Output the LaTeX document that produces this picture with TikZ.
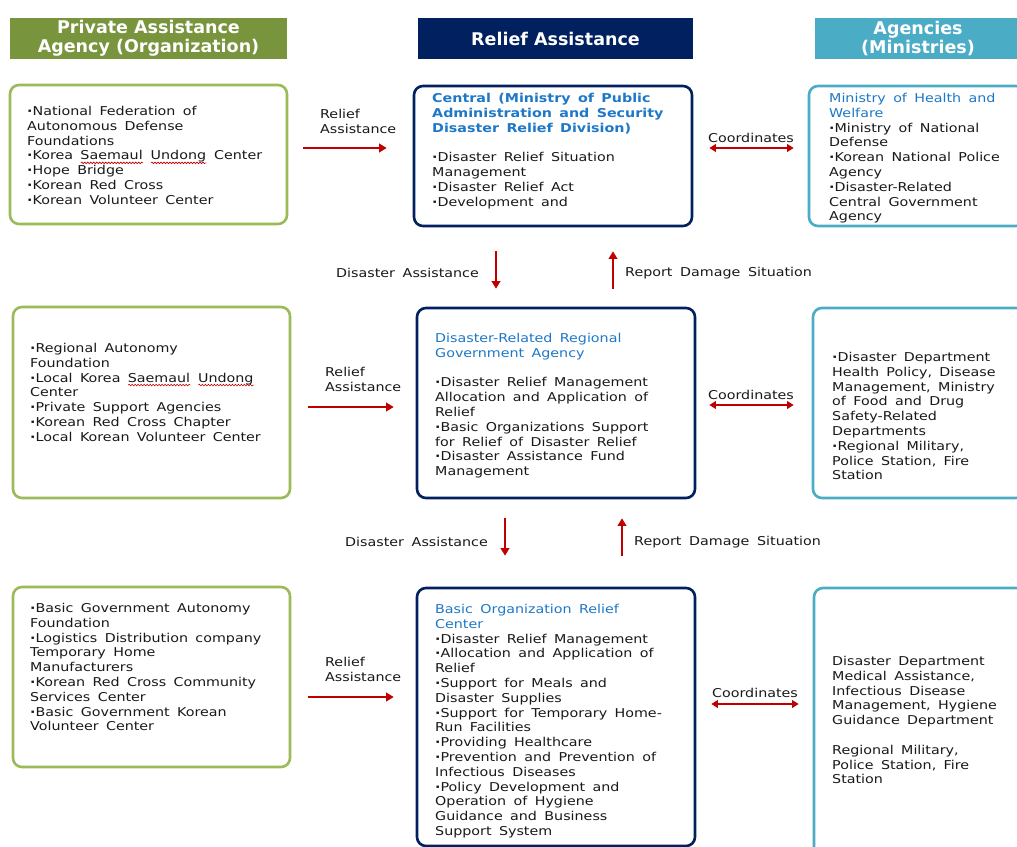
\documentclass[tikz,border=0pt]{standalone}
\usepackage{fontspec}
\usetikzlibrary{arrows.meta,decorations.pathmorphing}
\newfontfamily\bodyfont[FakeStretch=1.17,WordSpace=1.7]{DejaVu Sans}
\newfontfamily\hdrfontfam{DejaVu Sans}
\definecolor{hgreen}{RGB}{120,148,60}
\definecolor{bgreen}{RGB}{155,187,89}
\definecolor{navy}{RGB}{0,32,96}
\definecolor{teal}{RGB}{75,172,198}
\definecolor{tblue}{RGB}{30,120,200}
\definecolor{arrred}{RGB}{192,0,0}
\definecolor{txt}{RGB}{25,25,25}
\newcommand\squig[1]{\leavevmode\setbox0=\hbox{#1}\rlap{\copy0}\tikz[baseline=0pt,x=1pt,y=1pt]\draw[arrred,line width=0.6pt,decorate,decoration={snake,amplitude=0.8pt,segment length=3pt}] (0,-3) -- (\the\wd0,-3);}
\newcommand\bl[1]{\textcolor{tblue}{#1}}
\newcommand\bu{{\bfseries·}}
\newskip\bodyspace
\bodyspace=7.4pt plus 1pt
\newcommand\bs{\spaceskip\bodyspace\relax}
\begin{document}
\begin{tikzpicture}[x=1pt,y=-1pt,
  hdr/.style={inner sep=0pt,minimum height=41pt,text=white,align=center,
    font=\hdrfontfam\bfseries\fontsize{17.5}{19}\selectfont},
  gbox/.style={draw=bgreen,line width=2.6pt,rounded corners=9pt,inner sep=0pt},
  nbox/.style={draw=navy,line width=2.6pt,rounded corners=9pt,inner sep=0pt},
  tbox/.style={draw=teal,line width=2.6pt,rounded corners=9pt,inner sep=0pt},
  body/.style={anchor=north west,inner sep=0pt,text width=270pt,align=left,text=txt,
    font=\bodyfont\fontsize{12.2}{14.8}\selectfont},
  lbl/.style={inner sep=0pt,text=txt,font=\bodyfont\fontsize{12.2}{14.8}\selectfont},
  rarr/.style={draw=arrred,line width=2.4pt,-{Triangle[width=8.5pt,length=7.5pt]}},
  darr/.style={draw=arrred,line width=2.2pt,{Triangle[width=7.5pt,length=6.5pt]}-{Triangle[width=7.5pt,length=6.5pt]}}
]
\useasboundingbox (0,0) rectangle (1017,846);
\fill[white] (0,0) rectangle (1017,846);

% headers
\node[hdr,fill=hgreen,minimum width=277pt] (h1) at (148.5,38.5) {Private Assistance\\Agency (Organization)};
\node[hdr,fill=navy,minimum width=275pt] (h2) at (555.5,38.5) {Relief Assistance};
\node[hdr,fill=teal,minimum width=206pt] (h3) at (918,38.5) {Agencies\\(Ministries)};

% boxes
\node[gbox,minimum width=277pt,minimum height=139pt] (L1) at (148.5,154.5) {};
\node[nbox,minimum width=278pt,minimum height=140pt] (C1) at (553,156) {};
\node[tbox,minimum width=216pt,minimum height=140pt] (R1) at (917,156) {};
\node[gbox,minimum width=277pt,minimum height=191pt] (L2) at (151.5,402.5) {};
\node[nbox,minimum width=278pt,minimum height=190pt] (C2) at (556,403) {};
\node[tbox,minimum width=212pt,minimum height=190pt] (R2) at (919,403) {};
\node[gbox,minimum width=277pt,minimum height=180pt] (L3) at (151.5,677) {};
\node[nbox,minimum width=278pt,minimum height=258pt] (C3) at (556,717) {};
\node[tbox,minimum width=211pt,minimum height=268pt] (R3) at (919.5,722) {};

% texts
\node[body] (tL1) at (27,106) {\bs\bu National Federation of\\Autonomous Defense\\Foundations\\\bu Korea \squig{Saemaul} \squig{Undong} Center\\\bu Hope Bridge\\\bu Korean Red Cross\\\bu Korean Volunteer Center};
\node[body] (tC1) at (432,93) {\bs\bl{\bfseries Central (Ministry of Public}\\\bl{\bfseries Administration and Security}\\\bl{\bfseries Disaster Relief Division)}\\[14.8pt]\bu Disaster Relief Situation\\Management\\\bu Disaster Relief Act\\\bu Development and};
\node[body] (tR1) at (829,93) {\bs\bl{Ministry of Health and}\\\bl{Welfare}\\\bu Ministry of National\\Defense\\\bu Korean National Police\\Agency\\\bu Disaster-Related\\Central Government\\Agency};
\node[body] (tL2) at (30,343) {\bs\bu Regional Autonomy\\Foundation\\\bu Local Korea \squig{Saemaul} \squig{Undong}\\Center\\\bu Private Support Agencies\\\bu Korean Red Cross Chapter\\\bu Local Korean Volunteer Center};
\node[body] (tC2) at (435,333) {\bs\bl{Disaster-Related Regional}\\\bl{Government Agency}\\[14.8pt]\bu Disaster Relief Management\\Allocation and Application of\\Relief\\\bu Basic Organizations Support\\for Relief of Disaster Relief\\\bu Disaster Assistance Fund\\Management};
\node[body] (tR2) at (832,352) {\bs\bu Disaster Department\\Health Policy, Disease\\Management, Ministry\\of Food and Drug\\Safety-Related\\Departments\\\bu Regional Military,\\Police Station, Fire\\Station};
\node[body] (tL3) at (30,603) {\bs\bu Basic Government Autonomy\\Foundation\\\bu Logistics Distribution company\\Temporary Home\\Manufacturers\\\bu Korean Red Cross Community\\Services Center\\\bu Basic Government Korean\\Volunteer Center};
\node[body] (tC3) at (435,604) {\bs\bl{Basic Organization Relief}\\\bl{Center}\\\bu Disaster Relief Management\\\bu Allocation and Application of\\Relief\\\bu Support for Meals and\\Disaster Supplies\\\bu Support for Temporary Home-\\Run Facilities\\\bu Providing Healthcare\\\bu Prevention and Prevention of\\Infectious Diseases\\\bu Policy Development and\\Operation of Hygiene\\Guidance and Business\\Support System};
\node[body] (tR3) at (832,656) {\bs Disaster Department\\Medical Assistance,\\Infectious Disease\\Management, Hygiene\\Guidance Department\\[14.8pt]Regional Military,\\Police Station, Fire\\Station};

% horizontal connectors
\draw[rarr,shorten <=15pt,shorten >=26pt] (L1.east |- 0,148) -- (C1.west |- 0,148);
\draw[darr,shorten <=16pt,shorten >=14pt] (C1.east |- 0,148) -- (R1.west |- 0,148);
\draw[rarr,shorten <=17pt,shorten >=22pt] (L2.east |- 0,407) -- (C2.west |- 0,407);
\draw[darr,shorten <=13pt,shorten >=18pt] (C2.east |- 0,405) -- (R2.west |- 0,405);
\draw[rarr,shorten <=17pt,shorten >=22pt] (L3.east |- 0,697) -- (C3.west |- 0,697);
\draw[darr,shorten <=15pt,shorten >=14pt] (C3.east |- 0,704) -- (R3.west |- 0,704);

% vertical connectors
\draw[rarr,shorten <=24pt,shorten >=18pt] (C1.south -| 496,0) -- (C2.north -| 496,0);
\draw[rarr,shorten <=18pt,shorten >=24pt] (C2.north -| 613,0) -- (C1.south -| 613,0);
\draw[rarr,shorten <=19pt,shorten >=31pt] (C2.south -| 505,0) -- (C3.north -| 505,0);
\draw[rarr,shorten <=31pt,shorten >=19pt] (C3.north -| 622,0) -- (C2.south -| 622,0);

% connector labels
\node[lbl,anchor=north west,align=left] (la1) at (320,109) {Relief\\Assistance};
\node[lbl,anchor=north west,align=left] (la2) at (325,367) {Relief\\Assistance};
\node[lbl,anchor=north west,align=left] (la3) at (325,657) {Relief\\Assistance};
\node[lbl] (lc1) at (751,138) {Coordinates};
\node[lbl] (lc2) at (751,395) {Coordinates};
\node[lbl] (lc3) at (755,693) {Coordinates};
\node[lbl,anchor=east] (ld1) at (479,273) {Disaster Assistance};
\node[lbl,anchor=west] (lr1) at (625,273) {Report Damage Situation};
\node[lbl,anchor=east] (ld2) at (488,542) {Disaster Assistance};
\node[lbl,anchor=west] (lr2) at (634,542) {Report Damage Situation};
\end{tikzpicture}
\end{document}
